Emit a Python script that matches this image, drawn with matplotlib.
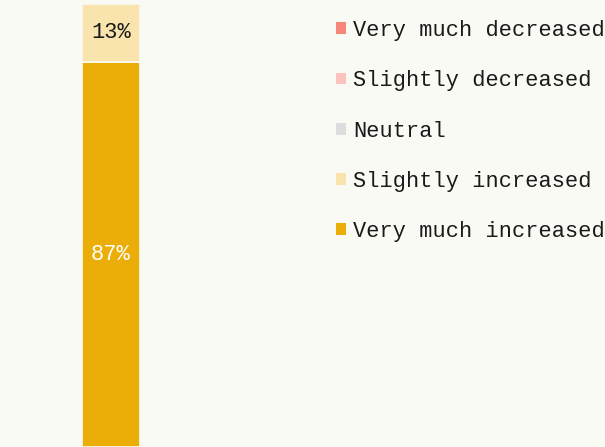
import matplotlib.pyplot as plt
from matplotlib.patches import Patch

categories = ["Very much decreased", "Slightly decreased", "Neutral",
              "Slightly increased", "Very much increased"]
shares = [0, 0, 0, 13, 87]
colors = ["#F7867A", "#FBC2BE", "#DDDDE0", "#F9E4AE", "#EBAD07"]
label_colors = ["#1A1A1A", "#1A1A1A", "#1A1A1A", "#1A1A1A", "#FFFFFF"]

bg = "#FAFAF5"
plt.rcParams["font.family"] = ["Liberation Mono", "DejaVu Sans Mono"]

fig = plt.figure(figsize=(6.05, 4.47), dpi=100, facecolor=bg)
ax = fig.add_axes([82 / 605, 0, 58 / 605, 443 / 447])
ax.set_facecolor(bg)

# stack from the bottom: largest share first
bottom = 0
for cat, val, col, tcol in zip(categories[::-1], shares[::-1], colors[::-1], label_colors[::-1]):
    if val == 0:
        continue
    ax.bar(0, val, bottom=bottom, width=1.0, color=col, edgecolor=bg, linewidth=1.2)
    ax.text(0, bottom + val / 2, f"{val}%", ha="center", va="center",
            color=tcol, fontsize=15.8)
    bottom += val

ax.set_xlim(-0.5, 0.5)
ax.set_ylim(0, 100)
ax.axis("off")

handles = [Patch(facecolor=c, edgecolor="none") for c in colors]
fig.legend(handles, categories, loc="upper left",
           bbox_to_anchor=(336 / 605, 1 - 20 / 447),
           frameon=False, fontsize=15.8, borderpad=0, borderaxespad=0,
           handlelength=0.45, handleheight=0.45, handletextpad=0.33,
           labelspacing=1.335, labelcolor="#1A1A1A")

fig.savefig("out.png", dpi=100, facecolor=bg)
